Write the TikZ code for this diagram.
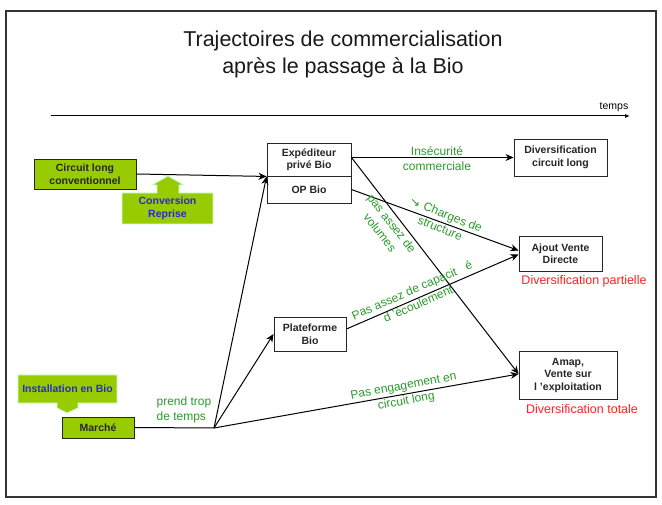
\documentclass[tikz,border=0pt]{standalone}
\usepackage{fontspec}
\setmainfont{Liberation Sans}
\newfontfamily\dejavu{DejaVu Sans}
\usetikzlibrary{arrows.meta}
\definecolor{gfill}{HTML}{99CC00}
\definecolor{gborder}{HTML}{CCFFDD}
\definecolor{gtext}{HTML}{2A9A2A}
\definecolor{btext}{HTML}{2828D8}
\definecolor{rtext}{HTML}{FF2020}
\tikzset{
  box/.style={draw=black!85, line width=0.9pt, fill=white, inner sep=1pt, align=center,
    font={\fontsize{10.5}{12.5}\selectfont\bfseries}, text=black!85},
  gbox/.style={box, fill=gfill},
  arr/.style={line width=1pt, -{Stealth[length=8pt,width=7pt,inset=2.5pt]}},
  conn/.style={line width=1pt},
  glabel/.style={text=gtext, align=center, inner sep=0pt, font={\fontsize{12}{15}\selectfont}},
  rlabel/.style={text=rtext, inner sep=0pt, font={\fontsize{12.5}{14}\selectfont}},
  callout/.style={fill=gfill, draw=gborder, line width=0.8pt},
  btextst/.style={text=btext, align=center, inner sep=0pt, font={\fontsize{10.5}{12.5}\selectfont\bfseries}}
}
\begin{document}
\begin{tikzpicture}[x=1pt,y=-1pt]
\useasboundingbox (0,0) rectangle (662,505);
\draw[line width=1.3pt, black!80] (6,11) rectangle (656,497);

% title
\node[align=center, inner sep=0pt, font={\fontsize{21.5}{27}\selectfont}, text=black!90] (title) at (343,54)
  {Trajectoires de commercialisation\\après le passage à la Bio};

% time axis
\coordinate (t0) at (51,116);
\coordinate (t1) at (630,116);
\draw[line width=1pt, -{Latex[length=5pt,width=4pt]}] (t0) -- (t1);
\node[inner sep=0pt, font={\fontsize{10.5}{12}\selectfont}] (temps) at (614,107) {temps};

% callouts
\draw[callout] (122,193) -- (157,193) -- (157,185) -- (152,185) -- (168,176) -- (184,185) -- (179,185)
  -- (179,193) -- (213,193) -- (213,224) -- (122,224) -- cycle;
\node[btextst] (conv) at (167.5,208.5) {Conversion\\Reprise};

\draw[callout] (18,375) -- (117,375) -- (117,403) -- (78,403) -- (78,408) -- (67,413) -- (57,408)
  -- (57,403) -- (18,403) -- cycle;
\node[btextst] (inst) at (67.5,389) {Installation en Bio};

% boxes
\node[gbox, minimum width=102pt, minimum height=30pt] (cl) at (85,174) {Circuit long\\conventionnel};
\node[gbox, minimum width=72pt, minimum height=21pt] (mar) at (98,427.5) {Marché};
\node[box, minimum width=84pt, minimum height=33pt] (exp) at (309,159.5) {Expéditeur\\privé Bio};
\node[box, minimum width=84pt, minimum height=27pt] (op) at (309,189.5) {OP Bio};
\node[box, minimum width=93pt, minimum height=37pt] (dcl) at (560.5,157.5) {Diversification\\circuit long};
\node[box, minimum width=83pt, minimum height=35pt] (avd) at (560.5,253.5) {Ajout Vente\\Directe};
\node[box, minimum width=72pt, minimum height=34pt] (pb) at (310,334) {Plateforme\\Bio};
\node[box, minimum width=98pt, minimum height=48pt] (amap) at (568,375) {Amap,\\Vente sur\\l 'exploitation};

\coordinate (hub) at (214,428);

% connectors
\draw[arr] (cl.east) -- (exp.south west);
\draw[conn] (mar.east) -- (hub);
\draw[arr] (hub) -- (exp.south west);
\draw[arr] (hub) -- (pb.west);
\draw[arr] (hub) -- ([yshift=1pt]amap.west);
\draw[arr] (exp.east |- dcl.west) -- (dcl.west);
\draw[arr] (exp.east |- dcl.west) -- ([yshift=1pt]amap.west);
\draw[arr] (op.east) -- ([yshift=3pt]avd.west);
\draw[arr] ([yshift=5pt]pb.east) -- ([yshift=-1pt]avd.west);

% labels
\node[glabel] (ins) at (437,159) {Insécurité\\commerciale};
\node[glabel, rotate=-52] (vol) at (386,228) {pas assez de\\volumes};
\node[glabel, rotate=-22] (chg) at (443,221) {\rotatebox[origin=c]{22}{\dejavu\fontsize{12}{12}\selectfont ↘} Charges de\\structure};
\node[glabel, rotate=23.6] (cap) at (415,297) {Pas assez de capacit\ \ \ é\\d 'écoulement};
\node[glabel, rotate=10.5] (eng) at (405,394) {Pas engagement en\\circuit long};
\node[glabel, align=left] (ptt) at (184,410) {prend trop\\de temps};

\node[rlabel] (dp) at (584,281) {Diversification partielle};
\node[rlabel] (dt) at (582,409) {Diversification totale};
\end{tikzpicture}
\end{document}
